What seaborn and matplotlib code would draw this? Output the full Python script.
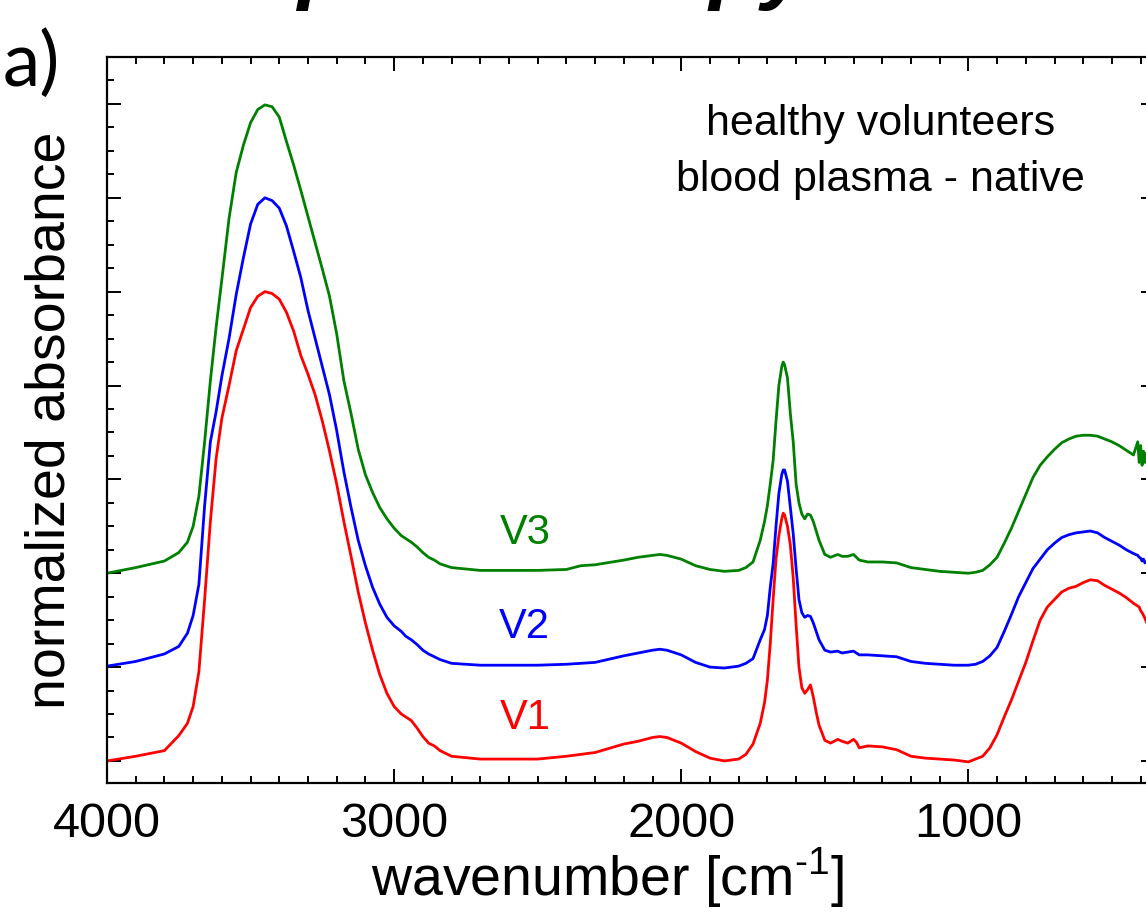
import numpy as np
import pandas as pd
import matplotlib
matplotlib.use('Agg')
import matplotlib.pyplot as plt
import seaborn as sns
from matplotlib.ticker import MultipleLocator

# wavenumber grid (cm^-1) and normalized absorbance (offset traces)
wavenumber = [4000, 3900, 3800, 3750, 3720, 3700, 3680, 3660, 3640, 3620, 3600, 3575, 3550, 3525,
              3500, 3475, 3450, 3425, 3400, 3375, 3350, 3325, 3300, 3275, 3250, 3225, 3200, 3175,
              3150, 3125, 3100, 3075, 3050, 3025, 3000, 2975, 2960, 2940, 2920, 2900, 2880, 2860,
              2840, 2800, 2700, 2600, 2500, 2400, 2350, 2300, 2200, 2150, 2100, 2075, 2050, 2000,
              1950, 1900, 1850, 1800, 1775, 1750, 1725, 1710, 1700, 1690, 1680, 1670, 1660, 1650,
              1645, 1640, 1630, 1620, 1610, 1600, 1590, 1580, 1570, 1560, 1550, 1540, 1530, 1520,
              1500, 1480, 1455, 1440, 1420, 1400, 1390, 1380, 1350, 1300, 1250, 1200, 1150, 1100,
              1050, 1000, 975, 950, 925, 900, 875, 850, 825, 800, 775, 750, 725, 700, 675, 650,
              625, 600, 575, 550, 525, 500, 475, 450, 425, 410, 405, 400, 395, 390, 385, 380,
              370, 360]

v1 = [0.00, 0.05, 0.11, 0.27, 0.40, 0.58, 0.95, 1.72, 2.55, 3.22, 3.65, 4.00, 4.37, 4.60,
      4.83, 4.95, 5.00, 4.98, 4.92, 4.78, 4.58, 4.32, 4.12, 3.90, 3.62, 3.30, 2.95, 2.55,
      2.18, 1.80, 1.47, 1.18, 0.92, 0.72, 0.58, 0.50, 0.47, 0.43, 0.35, 0.26, 0.19, 0.16,
      0.11, 0.05, 0.02, 0.02, 0.02, 0.05, 0.07, 0.09, 0.18, 0.21, 0.25, 0.26, 0.25, 0.19,
      0.10, 0.03, 0.00, 0.02, 0.07, 0.18, 0.40, 0.62, 0.86, 1.25, 1.72, 2.15, 2.40, 2.58,
      2.64, 2.62, 2.50, 2.30, 1.95, 1.45, 1.00, 0.78, 0.72, 0.76, 0.81, 0.68, 0.52, 0.38,
      0.22, 0.19, 0.23, 0.21, 0.19, 0.23, 0.20, 0.14, 0.16, 0.15, 0.12, 0.05, 0.03, 0.02,
      0.01, -0.01, 0.02, 0.05, 0.14, 0.28, 0.47, 0.65, 0.85, 1.05, 1.28, 1.50, 1.64, 1.72,
      1.80, 1.84, 1.86, 1.90, 1.93, 1.92, 1.87, 1.83, 1.79, 1.74, 1.68, 1.65, 1.64, 1.60,
      1.58, 1.55, 1.52, 1.48, 1.42, 1.35]

v2 = [1.01, 1.06, 1.14, 1.22, 1.36, 1.55, 1.88, 2.72, 3.40, 3.72, 4.10, 4.50, 4.97, 5.36,
      5.72, 5.93, 6.00, 5.97, 5.89, 5.70, 5.43, 5.15, 4.80, 4.50, 4.20, 3.90, 3.52, 3.08,
      2.70, 2.35, 2.08, 1.85, 1.67, 1.53, 1.44, 1.38, 1.33, 1.29, 1.24, 1.18, 1.14, 1.11,
      1.08, 1.04, 1.02, 1.02, 1.02, 1.03, 1.04, 1.05, 1.12, 1.15, 1.18, 1.19, 1.18, 1.13,
      1.05, 1.00, 0.99, 1.01, 1.04, 1.09, 1.29, 1.40, 1.55, 1.85, 2.10, 2.50, 2.85, 3.05,
      3.10, 3.10, 2.98, 2.70, 2.42, 2.05, 1.72, 1.58, 1.53, 1.55, 1.54, 1.47, 1.38, 1.29,
      1.18, 1.16, 1.17, 1.15, 1.16, 1.17, 1.15, 1.13, 1.13, 1.12, 1.11, 1.06, 1.04, 1.03,
      1.02, 1.02, 1.03, 1.06, 1.12, 1.21, 1.38, 1.56, 1.75, 1.90, 2.05, 2.15, 2.25, 2.32,
      2.38, 2.41, 2.43, 2.44, 2.45, 2.43, 2.38, 2.34, 2.30, 2.25, 2.21, 2.19, 2.17, 2.16,
      2.13, 2.15, 2.11, 2.12, 2.09, 2.08]

v3 = [2.00, 2.06, 2.13, 2.22, 2.33, 2.50, 2.82, 3.40, 4.05, 4.62, 5.13, 5.78, 6.27, 6.56,
      6.80, 6.94, 6.99, 6.97, 6.86, 6.60, 6.35, 6.08, 5.80, 5.52, 5.24, 4.95, 4.55, 4.05,
      3.70, 3.32, 3.05, 2.86, 2.70, 2.58, 2.48, 2.40, 2.37, 2.33, 2.28, 2.22, 2.17, 2.14,
      2.10, 2.06, 2.03, 2.03, 2.03, 2.04, 2.08, 2.09, 2.14, 2.17, 2.19, 2.20, 2.19, 2.15,
      2.08, 2.04, 2.02, 2.03, 2.06, 2.12, 2.35, 2.55, 2.72, 2.95, 3.20, 3.62, 4.00, 4.20,
      4.25, 4.22, 4.08, 3.70, 3.40, 2.95, 2.75, 2.63, 2.58, 2.63, 2.62, 2.55, 2.45, 2.35,
      2.20, 2.17, 2.20, 2.18, 2.18, 2.20, 2.17, 2.14, 2.12, 2.12, 2.11, 2.06, 2.04, 2.02,
      2.01, 2.00, 2.01, 2.03, 2.09, 2.17, 2.32, 2.48, 2.66, 2.84, 3.02, 3.15, 3.24, 3.32,
      3.39, 3.43, 3.46, 3.47, 3.47, 3.46, 3.43, 3.40, 3.36, 3.31, 3.26, 3.40, 3.18, 3.36,
      3.15, 3.30, 3.18, 3.28, 3.20, 3.24]

samples = ['V1', 'V2', 'V3']
colors = ['#ff0000', '#0000ff', '#008000']

df = pd.concat([
    pd.DataFrame({'wavenumber': wavenumber, 'absorbance': vals, 'sample': name})
    for name, vals in zip(samples, [v1, v2, v3])
])

sns.set_theme(style='ticks')
plt.rcParams['font.family'] = ['Liberation Sans', 'DejaVu Sans']
plt.rcParams.update({
    'text.color': 'black', 'axes.labelcolor': 'black',
    'xtick.color': 'black', 'ytick.color': 'black',
    'mathtext.fontset': 'custom', 'mathtext.rm': 'Liberation Sans',
})

fig = plt.figure(figsize=(11.46, 9.19), dpi=100)
ax = fig.add_axes([107 / 1146, 136 / 919, 1048 / 1146, 726 / 919])

sns.lineplot(data=df, x='wavenumber', y='absorbance', hue='sample',
             palette=dict(zip(samples, colors)), estimator=None, sort=False,
             linewidth=2.0, legend=False, ax=ax)

ax.set_xlim(4000, 350)
ax.set_ylim(-0.235, 7.5)
ax.xaxis.set_major_locator(MultipleLocator(1000))
ax.xaxis.set_minor_locator(MultipleLocator(100))
ax.yaxis.set_major_locator(MultipleLocator(1))
ax.yaxis.set_minor_locator(MultipleLocator(0.25))
ax.set_yticklabels([])
ax.tick_params(which='both', direction='in', top=True, right=True, width=1.4, colors='black')
ax.tick_params(which='major', length=10, labelsize=35, pad=14)
ax.tick_params(which='minor', length=5)
for s in ax.spines.values():
    s.set_linewidth(1.6)
    s.set_color('black')

ax.set_xlabel('wavenumber [cm$^{\\text{-1}}$]', fontsize=40)
ax.xaxis.set_label_coords(0.477, -0.086)
ax.set_ylabel('normalized absorbance', fontsize=40, labelpad=8)

for name, col, yv in zip(samples, colors, [0.46, 1.43, 2.43]):
    ax.text(2545, yv, name, color=col, fontsize=30, ha='center', va='center')

ax.text(1307, 6.67, 'healthy volunteers', fontsize=31, ha='center', va='baseline')
ax.text(1307, 6.07, 'blood plasma - native', fontsize=31, ha='center', va='baseline')

fig.text(0.002, 1 - 64 / 919, 'a)', fontsize=54, family='Lato', va='center', ha='left')
fig.text(250 / 1146, 1 + 7 / 919, 'spectroscopy', fontsize=62, weight='bold', style='italic',
         va='baseline', ha='left')

fig.savefig('out.png', dpi=100)
